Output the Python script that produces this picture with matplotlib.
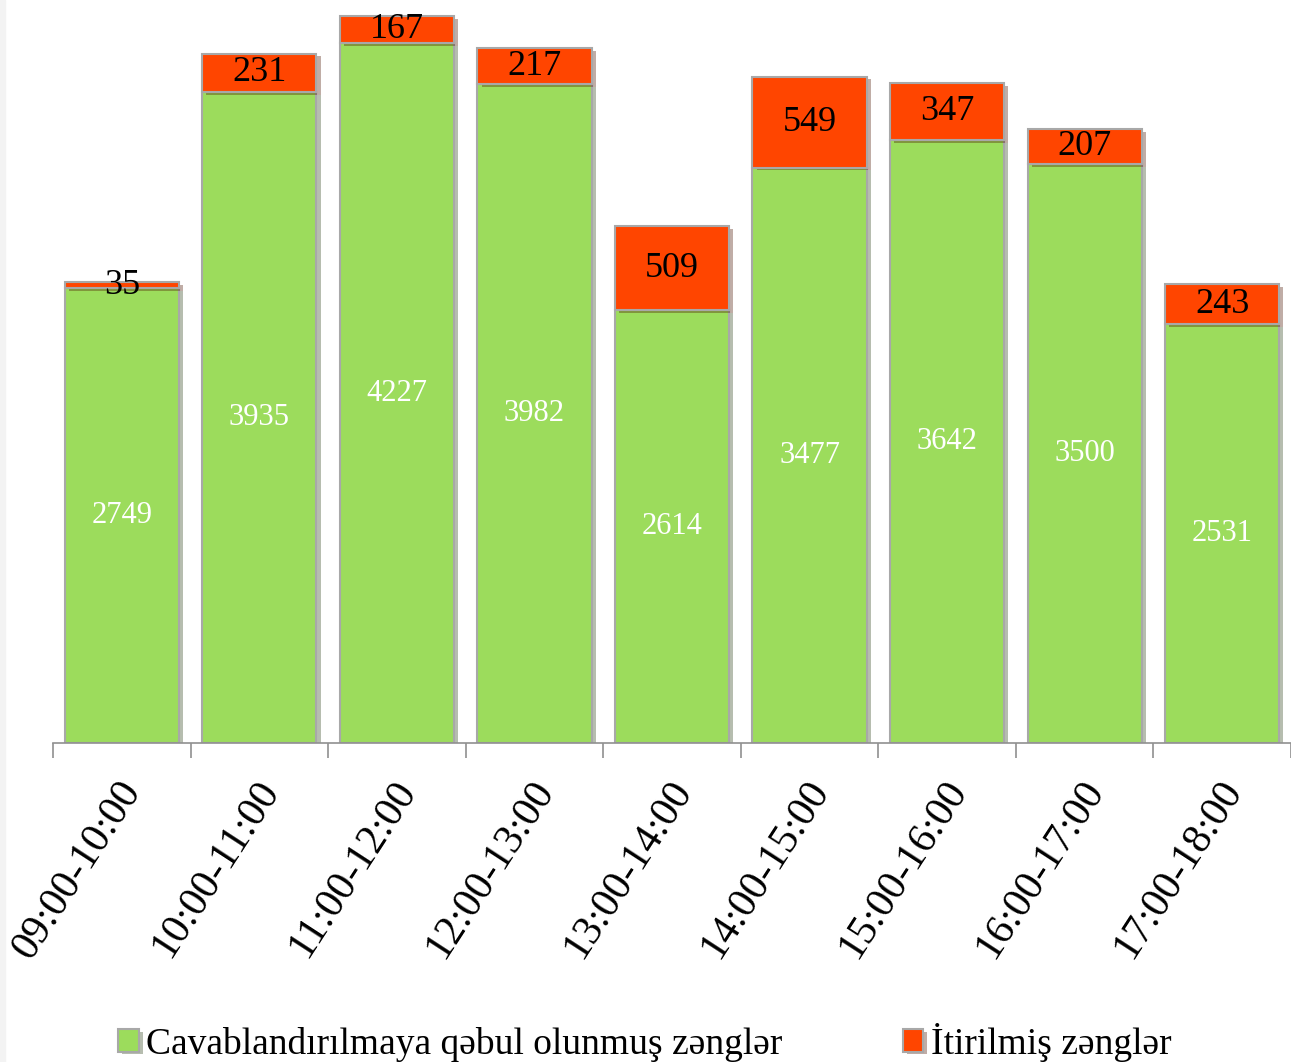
import numpy as np
import matplotlib
matplotlib.use("Agg")
import matplotlib.pyplot as plt
import matplotlib.patheffects as pe
import matplotlib.transforms as mtransforms

plt.rcParams['font.family'] = ['Liberation Serif', 'DejaVu Serif']

hours = ['09:00-10:00', '10:00-11:00', '11:00-12:00', '12:00-13:00', '13:00-14:00',
         '14:00-15:00', '15:00-16:00', '16:00-17:00', '17:00-18:00']
answered = [2749, 3935, 4227, 3982, 2614, 3477, 3642, 3500, 2531]
lost = [35, 231, 167, 217, 509, 549, 347, 207, 243]

green = '#9CDC5C'
red = '#FF4500'

W, H = 1291, 1062
fig = plt.figure(figsize=(W / 100, H / 100), dpi=100)
# faint grey border shadow on the left edge
fig.patches.append(plt.Rectangle((0, 0), 5 / W, 1, transform=fig.transFigure,
                                 color='#F3F3F3', zorder=0))
# axes: left 53px, bottom at y=743px, top at y=0
ax = fig.add_axes([53 / W, (H - 743) / H, (W - 53) / W, 743 / H])

x = np.arange(len(hours))
shadow = [pe.SimplePatchShadow(offset=(3, -2), alpha=0.35), pe.Normal()]
b1 = ax.bar(x, answered, width=0.83, color=green, edgecolor='#A8A8A8', linewidth=1.5,
            label='Cavablandırılmaya qəbul olunmuş zənglər', path_effects=shadow)
b2 = ax.bar(x, lost, bottom=answered, width=0.83, color=red, edgecolor='#A8A8A8', linewidth=1.5,
            label='İtirilmiş zənglər', path_effects=shadow)

for i in range(len(hours)):
    ax.text(x[i], answered[i] / 2, str(answered[i]), color='white', fontsize=22,
            ha='center', va='center')
    ax.text(x[i], answered[i] + lost[i] / 2, str(lost[i]), color='black', fontsize=26,
            ha='center', va='center')

ax.set_xlim(-0.5, len(hours) - 0.5)
ax.set_ylim(0, 743 / 0.1655)
for s in ['top', 'right', 'left']:
    ax.spines[s].set_visible(False)
ax.spines['bottom'].set_color('#909090')
ax.spines['bottom'].set_linewidth(1.2)
ax.set_yticks([])

ax.set_xticks(x)
ax.set_xticklabels(hours, rotation=57, ha='right', va='top', rotation_mode='anchor',
                   fontsize=30)
ax.tick_params(axis='x', length=0, pad=22)
shift = mtransforms.ScaledTranslation(-5 / 100, 0, fig.dpi_scale_trans)
for lab in ax.get_xticklabels():
    lab.set_transform(lab.get_transform() + shift)
ax.set_xticks(np.arange(-0.5, len(hours)), minor=True)
ax.tick_params(axis='x', which='minor', length=11, width=1.2, color='#909090')

fig.legend(handles=[b1, b2], loc='center left', bbox_to_anchor=(118 / W, (H - 1042) / H),
           ncol=2, frameon=False, fontsize=27, handlelength=0.55, handleheight=0.55,
           handletextpad=0.2, columnspacing=3.2, borderaxespad=0, borderpad=0)

fig.savefig('out.png', dpi=100)
